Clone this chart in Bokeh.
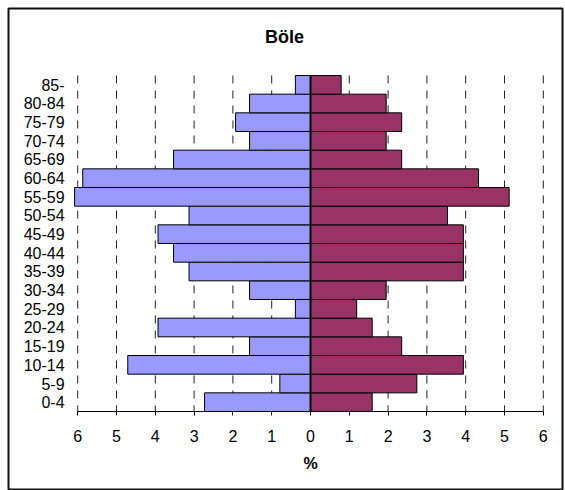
from bokeh.plotting import figure
from bokeh.models import Range1d, FixedTicker, LinearAxis
from bokeh.core.properties import value
from bokeh.embed import file_html
from bokeh.resources import INLINE

# ---- data ----
age_groups = ["0-4", "5-9", "10-14", "15-19", "20-24", "25-29", "30-34",
              "35-39", "40-44", "45-49", "50-54", "55-59", "60-64", "65-69",
              "70-74", "75-79", "80-84", "85-"]
left_pct = [2.73, 0.79, 4.71, 1.57, 3.93, 0.39, 1.57, 3.13, 3.53, 3.93,
            3.13, 6.08, 5.87, 3.53, 1.57, 1.93, 1.57, 0.39]
right_pct = [1.59, 2.74, 3.94, 2.35, 1.59, 1.19, 1.95, 3.94, 3.94, 3.94,
             3.53, 5.12, 4.33, 2.35, 1.95, 2.35, 1.95, 0.79]
x_ticks = [-6, -5, -4, -3, -2, -1, 0, 1, 2, 3, 4, 5, 6]
title_text = "Böle"
x_label = "%"

FONT = "Liberation Sans"
n = len(age_groups)
pos = list(range(n))                       # category slots 0..n-1
lo, hi = -0.5, n - 0.5                     # category band extent
x_min, x_max = -6.08, 6.0                  # plot-area value extent

# The frame spans the whole chart box so that its outline is the chart border.
p = figure(width=565, height=490, output_backend="svg", toolbar_location=None,
           x_range=Range1d(-7.7835, 6.4948),
           y_range=Range1d(lo - 4.232, hi + 3.589),
           min_border_left=8, min_border_right=3,
           min_border_top=8, min_border_bottom=0)
p.outline_line_color = "#111111"
p.outline_line_width = 2
p.background_fill_color = "white"
p.border_fill_color = "white"
p.xgrid.visible = False
p.ygrid.visible = False

# dashed vertical gridlines over the plot area (drawn top to bottom)
grid_x = [t for t in x_ticks if t != 0]
p.segment(x0=grid_x, y0=hi, x1=grid_x, y1=lo, line_color="#222222",
          line_width=1, line_dash="8 7")

neg_left = [-v for v in left_pct]
p.hbar(y=pos, left=neg_left, right=0, height=1.0,
       fill_color="#9999FF", line_color="black", line_width=1)
p.hbar(y=pos, left=0, right=right_pct, height=1.0,
       fill_color="#993366", line_color="black", line_width=1)

# x axis at the bottom of the plot area
xa = p.xaxis[0]
xa.fixed_location = lo
xa.ticker = FixedTicker(ticks=x_ticks)
xa.major_label_overrides = {t: str(abs(t)) for t in x_ticks}
xa.bounds = (x_ticks[0], x_ticks[-1])
xa.axis_line_color = "black"
xa.major_tick_line_color = "black"
xa.major_tick_out = 4
xa.major_tick_in = 0
xa.minor_tick_line_color = None
xa.major_label_standoff = 14
xa.major_label_text_font = FONT
xa.major_label_text_font_size = "16px"
xa.major_label_text_color = "black"
xa.axis_label = x_label
xa.axis_label_text_font = FONT
xa.axis_label_text_font_size = "16px"
xa.axis_label_text_font_style = "bold"
xa.axis_label_text_color = "black"
xa.axis_label_standoff = 10

# category axis on the left of the plot area
ya = p.yaxis[0]
ya.fixed_location = x_min
ya.ticker = FixedTicker(ticks=pos)
ya.major_label_overrides = {i: g for i, g in zip(pos, age_groups)}
ya.axis_line_color = None
ya.major_tick_line_color = None
ya.minor_tick_line_color = None
ya.major_tick_out = 0
ya.major_label_standoff = 10
ya.major_label_text_font = FONT
ya.major_label_text_font_size = "16px"
ya.major_label_text_color = "black"

# vertical category axis line crossing at 0
za = LinearAxis(fixed_location=0, ticker=FixedTicker(ticks=[]),
                bounds=(lo, hi), axis_line_color="black", axis_line_width=2,
                major_tick_line_color=None, minor_tick_line_color=None)
p.add_layout(za, "left")

# chart title
p.text(x=[-0.67], y=[hi + 2.036], text=[title_text],
       text_font=value(FONT), text_font_size="18px", text_font_style="bold",
       text_align="center", text_baseline="middle", text_color="black")

open("out.html", "w").write(file_html(p, INLINE))
